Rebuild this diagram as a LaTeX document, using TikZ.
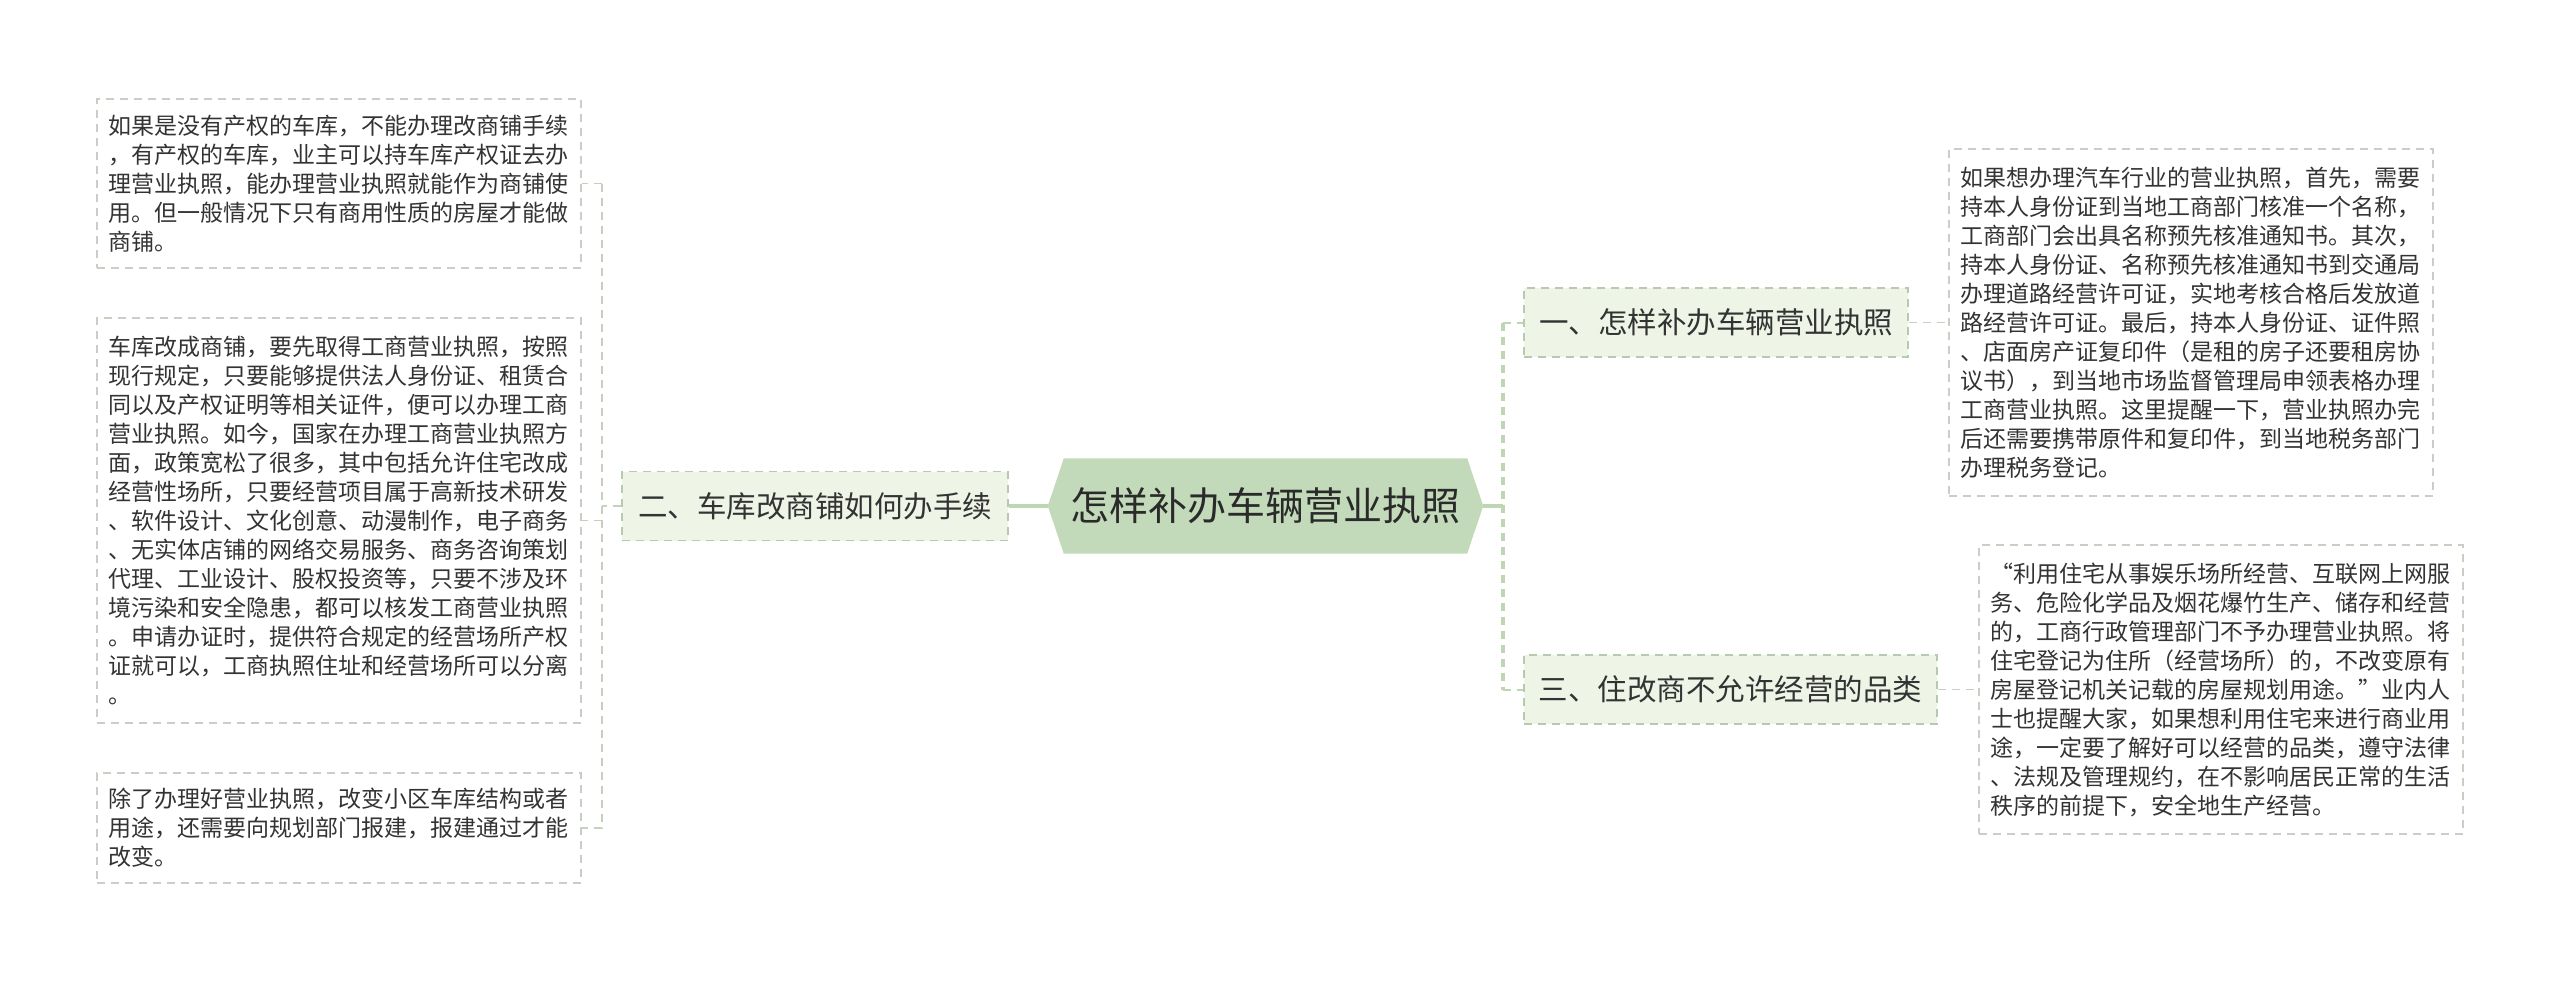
\documentclass[tikz,border=0pt]{standalone}
\usepackage{fontspec}
\setmainfont{Noto Sans CJK SC}
\usetikzlibrary{backgrounds}
\definecolor{rootfill}{HTML}{C2DAB9}
\definecolor{branchfill}{HTML}{EEF5E7}
\definecolor{branchline}{HTML}{B8CAAE}
\definecolor{leafline}{HTML}{C8CFC4}
\definecolor{linkgreen}{HTML}{BFD6B4}
\definecolor{leaflinkc}{HTML}{C6D0BF}
\definecolor{textc}{HTML}{333333}
\definecolor{roottext}{HTML}{2A2A2A}
\begin{document}
\begin{tikzpicture}[x=1pt,y=-1pt,
  leaf/.style={draw=leafline, line width=1.4pt, dash pattern=on 8pt off 6pt, fill=white,
    text=textc, text width=462pt, align=left, inner xsep=11pt, inner ysep=0pt,
    font=\fontsize{23pt}{29pt}\selectfont, minimum width=484pt},
  branch/.style={draw=branchline, line width=1.6pt, dash pattern=on 8pt off 6pt, fill=branchfill,
    text=textc, font=\fontsize{29.5pt}{36pt}\selectfont, inner sep=0pt, minimum height=69pt},
  rootnode/.style={text=roottext, font=\fontsize{39pt}{45pt}\selectfont, inner sep=0pt,
    minimum width=435pt, minimum height=95pt},
  rootlink/.style={draw=linkgreen, line width=4pt},
  mainlink/.style={draw=linkgreen, line width=3.5pt, dash pattern=on 8pt off 6pt},
  stublink/.style={draw=linkgreen, line width=2pt, dash pattern=on 8pt off 6pt},
  leaflink/.style={draw=leaflinkc, line width=1.5pt, dash pattern=on 8pt off 6pt}
]
\useasboundingbox (0,0) rectangle (2560,983);

% central node
\node[rootnode] (root) at (1265.5,506) {怎样补办车辆营业执照};
\begin{scope}[on background layer]
\fill[rootfill] (root.west) -- ([xshift=16pt]root.north west) -- ([xshift=-16pt]root.north east)
  -- (root.east) -- ([xshift=-16pt]root.south east) -- ([xshift=16pt]root.south west) -- cycle;
\end{scope}

% branches
\node[branch, minimum width=386pt] (B2) at (815,506) {二、车库改商铺如何办手续};
\node[branch, minimum width=384pt] (B1) at (1716,322.5) {一、怎样补办车辆营业执照};
\node[branch, minimum width=413pt] (B3) at (1730.5,689.5) {三、住改商不允许经营的品类};

% leaves left
\node[leaf, minimum height=169pt] (L1) at (339,183.5) {如果是没有产权的车库，不能办理改商铺手续\\，有产权的车库，业主可以持车库产权证去办\\理营业执照，能办理营业执照就能作为商铺使\\用。但一般情况下只有商用性质的房屋才能做\\商铺。};
\node[leaf, minimum height=405pt] (L2) at (339,520.5) {车库改成商铺，要先取得工商营业执照，按照\\现行规定，只要能够提供法人身份证、租赁合\\同以及产权证明等相关证件，便可以办理工商\\营业执照。如今，国家在办理工商营业执照方\\面，政策宽松了很多，其中包括允许住宅改成\\经营性场所，只要经营项目属于高新技术研发\\、软件设计、文化创意、动漫制作，电子商务\\、无实体店铺的网络交易服务、商务咨询策划\\代理、工业设计、股权投资等，只要不涉及环\\境污染和安全隐患，都可以核发工商营业执照\\。申请办证时，提供符合规定的经营场所产权\\证就可以，工商执照住址和经营场所可以分离\\。};
\node[leaf, minimum height=110pt] (L3) at (339,828) {除了办理好营业执照，改变小区车库结构或者\\用途，还需要向规划部门报建，报建通过才能\\改变。};

% leaves right
\node[leaf, minimum height=347pt] (R1) at (2191,322.5) {如果想办理汽车行业的营业执照，首先，需要\\持本人身份证到当地工商部门核准一个名称，\\工商部门会出具名称预先核准通知书。其次，\\持本人身份证、名称预先核准通知书到交通局\\办理道路经营许可证，实地考核合格后发放道\\路经营许可证。最后，持本人身份证、证件照\\、店面房产证复印件（是租的房子还要租房协\\议书），到当地市场监督管理局申领表格办理\\工商营业执照。这里提醒一下，营业执照办完\\后还需要携带原件和复印件，到当地税务部门\\办理税务登记。};
\node[leaf, minimum height=289pt] (R2) at (2221,689.5) {\makebox[23pt][r]{“}利用住宅从事娱乐场所经营、互联网上网服\\务、危险化学品及烟花爆竹生产、储存和经营\\的，工商行政管理部门不予办理营业执照。将\\住宅登记为住所（经营场所）的，不改变原有\\房屋登记机关记载的房屋规划用途。\makebox[23pt][l]{”}业内人\\士也提醒大家，如果想利用住宅来进行商业用\\途，一定要了解好可以经营的品类，遵守法律\\、法规及管理规约，在不影响居民正常的生活\\秩序的前提下，安全地生产经营。};

% connectors right
\coordinate (jR) at (1503,506);
\coordinate (jR1) at (1503,322.5);
\coordinate (jR3) at (1503,689.5);
\draw[rootlink] (root.east) -- (jR);
\draw[mainlink] (jR1) -- (jR3);
\draw[stublink] (jR1) -- (B1.west);
\draw[stublink] (jR3) -- (B3.west);
\draw[leaflink] (B1.east) -- (R1.west);
\draw[leaflink] (B3.east) -- (R2.west);

% connectors left
\draw[rootlink] (root.west) -- (B2.east);
\coordinate (jL) at (602,506);
\coordinate (jL1) at (602,183.5);
\coordinate (jL2) at (602,520.5);
\coordinate (jL3) at (602,828);
\draw[leaflink] (B2.west) -- (jL);
\draw[leaflink] (jL1) -- (jL3);
\draw[leaflink] (jL1) -- (L1.east);
\draw[leaflink] (jL2) -- (L2.east);
\draw[leaflink] (jL3) -- (L3.east);
\end{tikzpicture}
\end{document}
